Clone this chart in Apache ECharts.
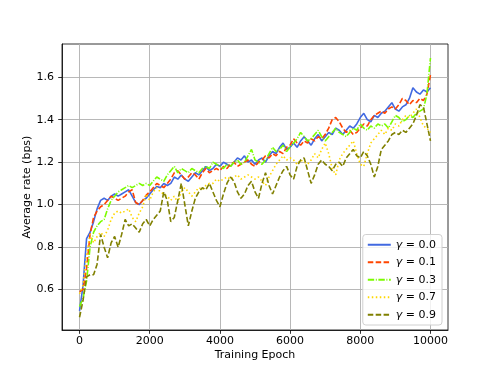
<!DOCTYPE html>
<html><head><meta charset="utf-8">
<script src="https://cdn.jsdelivr.net/npm/echarts@6/dist/echarts.min.js"></script>
<style>html,body{margin:0;padding:0;background:#fff}#c{width:498px;height:371px}</style>
</head><body><div id="c"></div>
<script>
// x grid: training epochs sampled every 100
const epochs = Array.from({length: 101}, (_, i) => i * 100);
const xTicks = [0, 2000, 4000, 6000, 8000, 10000];
const yTicks = [0.6, 0.8, 1.0, 1.2, 1.4, 1.6];
const seriesNames = ['0.0', '0.1', '0.3', '0.7', '0.9'];

const g00 = [0.50,0.62,0.84,0.87,0.92,0.98,1.02,1.03,1.02,1.04,1.05,1.04,1.05,1.06,1.07,1.04,1.01,1.00,1.02,1.03,
1.05,1.07,1.085,1.08,1.10,1.09,1.10,1.13,1.12,1.14,1.12,1.11,1.13,1.15,1.14,1.16,1.18,1.16,1.17,1.19,
1.18,1.20,1.19,1.18,1.20,1.22,1.21,1.23,1.20,1.21,1.19,1.21,1.22,1.20,1.23,1.25,1.24,1.27,1.29,1.26,
1.27,1.29,1.27,1.30,1.32,1.30,1.28,1.31,1.33,1.30,1.32,1.34,1.33,1.36,1.35,1.33,1.35,1.37,1.36,1.38,
1.41,1.43,1.40,1.39,1.42,1.41,1.43,1.44,1.46,1.48,1.45,1.44,1.46,1.47,1.50,1.55,1.53,1.52,1.54,1.53,1.55];
const g01 = [0.59,0.60,0.70,0.86,0.94,0.97,0.99,1.00,1.02,1.04,1.03,1.02,1.03,1.04,1.06,1.07,1.01,1.00,1.02,1.045,
1.06,1.08,1.10,1.09,1.08,1.10,1.12,1.15,1.16,1.14,1.12,1.13,1.15,1.14,1.12,1.15,1.17,1.15,1.16,1.17,
1.16,1.18,1.17,1.19,1.20,1.18,1.19,1.20,1.21,1.19,1.18,1.20,1.21,1.23,1.22,1.24,1.23,1.25,1.24,1.27,
1.28,1.31,1.29,1.28,1.30,1.29,1.31,1.30,1.32,1.31,1.33,1.36,1.40,1.41,1.39,1.36,1.34,1.35,1.33,1.34,
1.36,1.38,1.37,1.40,1.42,1.43,1.44,1.43,1.45,1.46,1.45,1.47,1.50,1.49,1.47,1.49,1.48,1.50,1.49,1.52,1.61];
const g03 = [0.52,0.56,0.64,0.80,0.87,0.90,0.92,0.93,0.98,1.02,1.04,1.06,1.07,1.08,1.09,1.08,1.09,1.10,1.09,1.10,
1.09,1.11,1.13,1.12,1.11,1.14,1.16,1.18,1.15,1.17,1.16,1.15,1.17,1.16,1.15,1.17,1.18,1.17,1.20,1.19,
1.18,1.17,1.19,1.18,1.20,1.21,1.19,1.20,1.23,1.26,1.21,1.20,1.19,1.21,1.24,1.27,1.25,1.26,1.28,1.25,
1.27,1.29,1.31,1.34,1.32,1.30,1.31,1.33,1.35,1.32,1.30,1.32,1.34,1.36,1.34,1.33,1.32,1.34,1.36,1.35,
1.38,1.36,1.35,1.37,1.36,1.38,1.37,1.38,1.36,1.39,1.42,1.41,1.39,1.40,1.42,1.41,1.43,1.44,1.45,1.52,1.69];
const g07 = [0.58,0.62,0.76,0.86,0.82,0.85,0.87,0.85,0.88,0.93,0.96,0.97,0.96,0.97,0.98,0.94,0.92,0.96,0.99,1.05,
1.02,1.06,1.08,1.06,1.05,1.04,1.02,1.04,1.01,1.06,1.08,1.06,1.04,1.06,1.08,1.07,1.09,1.10,1.10,1.12,
1.11,1.12,1.13,1.12,1.13,1.14,1.12,1.13,1.14,1.13,1.12,1.13,1.11,1.09,1.13,1.16,1.19,1.21,1.23,1.21,
1.22,1.21,1.19,1.21,1.20,1.19,1.21,1.24,1.22,1.26,1.29,1.24,1.17,1.14,1.21,1.24,1.26,1.28,1.30,1.24,
1.19,1.18,1.24,1.29,1.31,1.33,1.35,1.33,1.36,1.35,1.38,1.37,1.40,1.42,1.41,1.43,1.45,1.41,1.37,1.36,1.34];
const g09 = [0.47,0.55,0.66,0.67,0.67,0.72,0.86,0.80,0.75,0.82,0.85,0.80,0.86,0.93,0.90,0.91,0.89,0.87,0.91,0.93,
0.90,0.93,0.95,0.97,1.06,1.02,0.92,0.94,1.02,1.10,1.00,0.90,0.97,1.03,1.06,1.08,1.07,1.10,1.06,1.02,
0.99,1.05,1.10,1.13,1.11,1.06,1.03,1.05,1.09,1.11,1.06,1.03,1.10,1.15,1.09,1.05,1.09,1.13,1.16,1.18,
1.14,1.12,1.18,1.21,1.22,1.16,1.10,1.14,1.19,1.21,1.19,1.18,1.16,1.19,1.20,1.18,1.22,1.24,1.26,1.23,
1.22,1.25,1.23,1.19,1.13,1.18,1.26,1.28,1.30,1.33,1.34,1.33,1.35,1.34,1.36,1.38,1.42,1.47,1.46,1.38,1.30];

const allVals = [g00, g01, g03, g07, g09];
const colors = ['#4169E1', '#FF4500', '#7CFC00', '#FFD700', '#808000'];
const dashes = ['solid', [5.5, 2.4], [6.4, 1.6, 1, 1.6], [1.5, 2.5], [5.5, 2.4]];

const chart = echarts.init(document.getElementById('c'), null, {renderer: 'canvas'});
const font = 'DejaVu Sans';
const series = allVals.map((vals, k) => ({
  name: 'g' + k,
  type: 'line',
  data: epochs.map((e, i) => [e, vals[i]]),
  showSymbol: false,
  symbol: 'none',
  lineStyle: {color: colors[k], width: 1.6, type: dashes[k]},
  itemStyle: {color: colors[k]},
  animation: false,
  z: 2 + k
}));

chart.setOption({
  animation: false,
  grid: {left: 62, top: 44, right: 50, bottom: 41, show: true, borderColor: '#000', borderWidth: 0.8, backgroundColor: 'transparent'},
  xAxis: {
    type: 'value', min: -500, max: 10500,
    name: 'Training Epoch', nameLocation: 'middle', nameGap: 20, nameMoveOverlap: false,
    nameTextStyle: {fontFamily: font, fontSize: 11, color: '#000'},
    axisLine: {show: true, onZero: false, lineStyle: {color: '#000', width: 0.8}},
    axisTick: {show: true, customValues: xTicks, length: 3.8, inside: false, lineStyle: {color: '#000', width: 0.8}},
    axisLabel: {customValues: xTicks, margin: 6, fontFamily: font, fontSize: 11, color: '#000',
      formatter: v => String(v)},
    splitLine: {show: true, lineStyle: {color: '#b0b0b0', width: 0.9}}
  },
  yAxis: {
    type: 'value', min: 0.41, max: 1.756,
    name: 'Average rate (bps)', nameLocation: 'middle', nameGap: 29, nameMoveOverlap: false,
    nameTextStyle: {fontFamily: font, fontSize: 11, color: '#000'},
    axisLine: {show: true, onZero: false, lineStyle: {color: '#000', width: 0.8}},
    axisTick: {show: true, customValues: yTicks, length: 3.8, inside: false, lineStyle: {color: '#000', width: 0.8}},
    axisLabel: {customValues: yTicks, margin: 8, fontFamily: font, fontSize: 11, color: '#000',
      formatter: v => v.toFixed(1)},
    splitLine: {show: true, lineStyle: {color: '#b0b0b0', width: 0.9}}
  },
  legend: {
    orient: 'vertical', right: 56, bottom: 46,
    itemWidth: 23, itemHeight: 10, itemGap: 5,
    padding: [4, 6, 4, 4],
    backgroundColor: 'rgba(255,255,255,0.8)', borderColor: '#d0d0d0', borderWidth: 1, borderRadius: 3,
    itemStyle: {color: 'rgba(0,0,0,0)', borderWidth: 0, opacity: 0},
    data: series.map(s => s.name),
    formatter: name => {
      const k = +name.slice(1);
      return '{i|γ}{n| = ' + seriesNames[k] + '}';
    },
    textStyle: {
      fontFamily: font, fontSize: 11, color: '#000', lineHeight: 12.5,
      rich: {i: {fontFamily: font, fontStyle: 'italic', fontSize: 11}, n: {fontFamily: font, fontSize: 11}}
    }
  },
  series: series
});
</script></body></html>
